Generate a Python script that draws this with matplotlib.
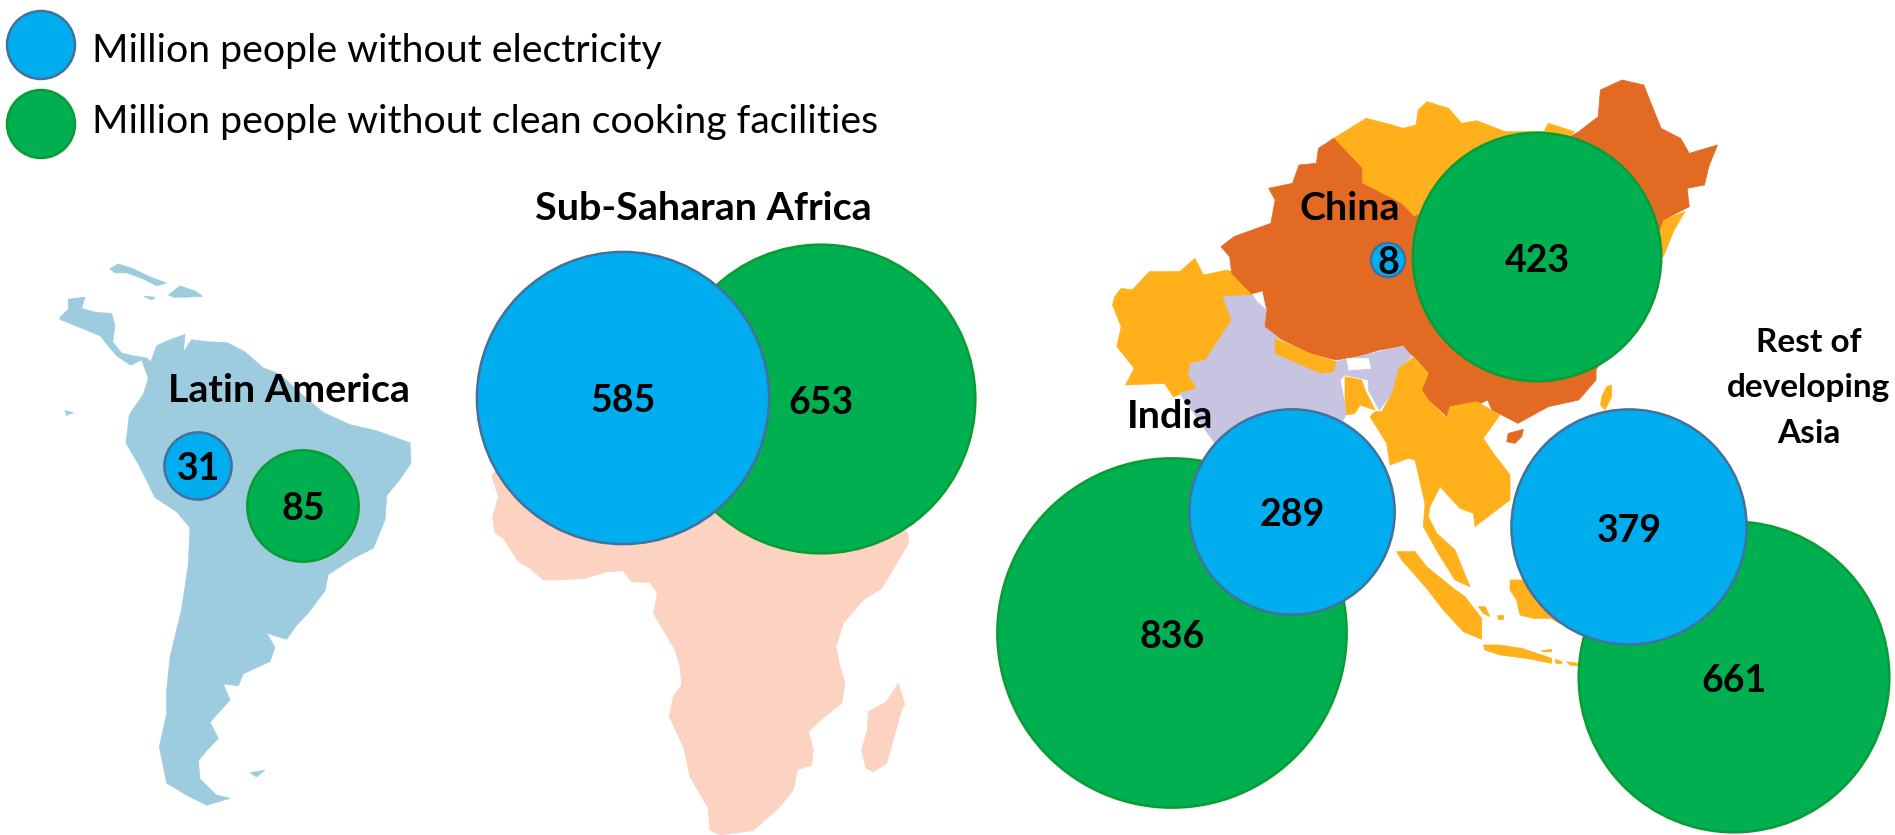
import numpy as np
import matplotlib
matplotlib.use('Agg')
import matplotlib.pyplot as plt
from matplotlib.patches import Circle, Polygon

plt.rcParams['font.family'] = ['Lato', 'DejaVu Sans']

# million people, read from the bubbles
regions = ['Latin America', 'Sub-Saharan Africa', 'China', 'India', 'Rest of\ndeveloping\nAsia']
no_electricity = [31, 585, 8, 289, 379]
no_cooking = [85, 653, 423, 836, 661]
legend_labels = ['Million people without electricity', 'Million people without clean cooking facilities']

# bubble centres in picture pixels
elec_x = [198, 623, 1388, 1292, 1629]
elec_y = [466, 398, 260, 512, 527]
cook_x = [303, 821, 1537, 1172, 1734]
cook_y = [506, 399, 257, 633, 677]
label_x = [289, 703, 1350, 1170, 1809]
label_y = [391, 208, 209, 416, 388]
label_size = [28.4, 28.4, 28.4, 28.4, 24]
label_spacing = [1.2, 1.2, 1.2, 1.2, 1.7]

BLUE = '#00AEEF'
BLUE_EDGE = '#41719C'
GREEN = '#00B050'
GREEN_EDGE = '#0A9C32'
LATIN = '#9ECCDF'
AFRICA = '#FCD2C1'
CHINA = '#E26A22'
OTHER_ASIA = '#FFB01A'
INDIA = '#C6C4E0'

CROP_LATIN = (0, 200, 3, 2.47)
CROP_AFRICA = (460, 440, 3, 3)
CROP_NORTH_ASIA = (1080, 60, 2.306, 3)
CROP_SE_ASIA = (1340, 380, 3, 3)

latin_main = [(180, 290), (205, 270), (205, 245), (255, 240), (245, 268), (290, 278), (335, 280), (345, 310),
              (338, 350), (365, 378), (400, 385), (440, 390), (452, 400), (470, 360), (510, 345), (555, 332),
              (550, 375), (575, 345), (620, 350), (680, 352), (735, 375), (790, 415), (840, 430), (905, 480),
              (970, 525), (1050, 555), (1130, 570), (1230, 600), (1233, 650), (1200, 690), (1160, 730),
              (1155, 790), (1120, 860), (1060, 885), (985, 925), (975, 965), (925, 1020), (890, 1050),
              (860, 1085), (800, 1070), (825, 1105), (810, 1140), (730, 1170), (715, 1200), (670, 1195),
              (690, 1235), (630, 1290), (655, 1330), (620, 1360), (595, 1385), (600, 1430), (650, 1470),
              (690, 1478), (620, 1495), (560, 1470), (500, 1440), (478, 1350), (500, 1270), (500, 1210),
              (510, 1130), (545, 1010), (565, 900), (570, 810), (530, 770), (465, 735), (420, 660),
              (378, 600), (388, 530), (430, 480), (445, 440), (425, 395), (392, 408), (350, 385),
              (300, 335), (240, 315), (180, 295)]
cuba = [(330, 170), (355, 158), (400, 170), (450, 190), (500, 205), (470, 212), (430, 195), (380, 180), (345, 180)]
hispaniola = [(505, 235), (540, 212), (585, 225), (608, 238), (560, 240), (520, 240)]
jamaica = [(432, 238), (465, 240), (455, 247)]
galapagos = [(195, 520), (220, 525), (200, 532)]
falklands = [(750, 1415), (795, 1408), (770, 1425)]

africa_main = [(95, 105), (115, 170), (98, 230), (105, 280), (130, 295), (175, 365), (210, 385), (250, 420),
               (300, 420), (375, 415), (440, 395), (490, 392), (515, 425), (570, 428), (592, 460), (580, 520),
               (610, 570), (645, 630), (660, 680), (665, 735), (640, 770), (628, 830), (670, 920), (690, 1010),
               (745, 1105), (750, 1170), (780, 1185), (880, 1172), (960, 1100), (1000, 1050), (1012, 990),
               (1055, 975), (1060, 930), (1045, 875), (1100, 825), (1145, 790), (1155, 730), (1140, 680),
               (1128, 620), (1150, 550), (1210, 480), (1265, 445), (1310, 370), (1345, 310), (1345, 285),
               (1200, 100), (800, 60), (200, 20)]
madagascar = [(1315, 730), (1335, 795), (1325, 810), (1280, 970), (1240, 995), (1218, 985), (1205, 930),
              (1222, 870), (1225, 815), (1280, 785)]

mongolia = [(575, 250), (585, 235), (660, 175), (720, 195), (745, 205), (775, 195), (780, 150), (800, 125),
            (850, 145), (880, 190), (915, 182), (980, 215), (1070, 215), (1080, 190), (1140, 215), (1000, 400),
            (765, 490), (730, 445), (635, 385), (635, 335), (595, 285)]
korea = [(1320, 500), (1345, 480), (1395, 455), (1370, 510), (1345, 590), (1320, 560)]
china = [(1150, 215), (1195, 170), (1200, 90), (1250, 60), (1300, 75), (1340, 205), (1385, 235), (1405, 280),
         (1470, 255), (1450, 320), (1440, 375), (1400, 385), (1405, 440), (1345, 480), (1250, 800), (1190, 930),
         (1190, 960), (1150, 1020), (1080, 1040), (1010, 1090), (950, 1050), (940, 1020), (850, 1075),
         (830, 1050), (775, 990), (790, 920), (770, 890), (740, 860), (690, 870), (640, 890), (590, 900),
         (530, 880), (460, 835), (420, 800), (425, 740), (395, 700), (350, 640), (345, 590), (325, 560),
         (355, 530), (440, 490), (450, 420), (435, 385), (490, 370), (505, 315), (545, 310), (550, 265),
         (585, 235), (610, 270), (650, 325), (650, 370), (740, 430), (770, 470), (900, 400)]
pakistan = [(80, 710), (95, 685), (120, 690), (160, 635), (230, 635), (265, 595), (285, 645), (340, 630),
            (380, 650), (400, 720), (370, 780), (340, 840), (310, 900), (275, 915), (270, 945),
            (270, 985), (215, 1010), (195, 970), (105, 975), (125, 925), (85, 860), (95, 800), (75, 735)]
india = [(330, 710), (400, 705), (430, 745), (425, 800), (455, 830), (450, 880), (560, 940), (590, 905),
         (640, 890), (745, 858), (765, 890), (735, 925), (720, 1000), (690, 1050), (665, 990), (665, 960),
         (610, 945), (600, 960), (615, 1060), (520, 1300), (400, 1300), (300, 1130), (230, 1000), (270, 985),
         (250, 945), (255, 910), (290, 900), (320, 840), (350, 780)]
nepal = [(450, 835), (530, 880), (590, 905), (585, 935), (555, 940), (450, 880)]
bhutan = [(615, 895), (665, 895), (670, 925), (620, 930)]
kashmir_gap = [(398, 703), (420, 695), (428, 745), (410, 725)]

se_mainland = [(222, -69), (265, -20), (245, 30), (265, 60), (320, 115), (330, 80), (410, 65), (480, 105),
               (430, 175), (460, 220), (510, 285), (510, 360), (470, 390), (405, 440), (400, 400), (360, 385),
               (300, 320), (270, 380), (265, 410), (290, 460), (345, 510), (390, 620), (345, 600), (295, 520),
               (250, 440), (255, 370), (225, 240), (205, 235), (150, 255), (140, 190), (90, 110), (105, 95),
               (125, 95), (157, 39), (177, -36)]
bangladesh = [(15, -10), (65, 0), (75, 30), (105, 90), (60, 75), (45, 100), (20, 105), (15, 60)]
sumatra = [(170, 515), (225, 515), (260, 560), (340, 625), (375, 650), (425, 715), (425, 778), (370, 755),
           (310, 690), (260, 625), (185, 540)]
java = [(430, 795), (480, 795), (545, 805), (590, 820), (635, 835), (635, 850), (560, 835), (480, 825), (435, 810)]
bali = [(645, 838), (665, 845), (665, 852), (648, 850)]
timor = [(680, 845), (715, 850), (715, 858), (690, 855)]
madura = [(605, 812), (635, 808), (635, 815), (610, 816)]
bangka = [(415, 680), (435, 680), (450, 710), (430, 700)]
belitung = [(472, 705), (488, 705), (488, 718), (475, 718)]
borneo = [(510, 600), (570, 600), (700, 700), (660, 730), (630, 715), (580, 715), (540, 705), (530, 660), (510, 630)]
taiwan = [(800, 20), (815, 15), (815, 50), (795, 90), (782, 75), (785, 50)]
hainan = [(505, 160), (550, 148), (545, 170), (525, 190), (500, 185)]


def add_shape(ax, points, crop, color):
    x0, y0, sx, sy = crop
    pts = np.array(points, dtype=float)
    pts = np.column_stack([x0 + pts[:, 0] / sx, y0 + pts[:, 1] / sy])
    ax.add_patch(Polygon(pts, closed=True, facecolor=color, edgecolor=color, lw=0.5, zorder=1))


def add_bubble(ax, x, y, value, color, edge, zorder):
    # bubble area follows the value
    radius = 6.04 * np.sqrt(value)
    ax.add_patch(Circle((x, y), radius, facecolor=color, edgecolor=edge, lw=1.8, zorder=zorder))


fig = plt.figure(figsize=(18.95, 8.35), dpi=100)
ax = fig.add_axes([0, 0, 1, 1])
ax.set_xlim(0, 1895)
ax.set_ylim(835, 0)
ax.axis('off')

for shape in [latin_main, cuba, hispaniola, jamaica, galapagos, falklands]:
    add_shape(ax, shape, CROP_LATIN, LATIN)
for shape in [africa_main, madagascar]:
    add_shape(ax, shape, CROP_AFRICA, AFRICA)
for shape in [mongolia, korea, pakistan]:
    add_shape(ax, shape, CROP_NORTH_ASIA, OTHER_ASIA)
add_shape(ax, china, CROP_NORTH_ASIA, CHINA)
add_shape(ax, india, CROP_NORTH_ASIA, INDIA)
add_shape(ax, nepal, CROP_NORTH_ASIA, OTHER_ASIA)
for shape in [bhutan, kashmir_gap]:
    add_shape(ax, shape, CROP_NORTH_ASIA, 'white')
for shape in [se_mainland, bangladesh, sumatra, java, bali, timor, madura, bangka, belitung, borneo, taiwan]:
    add_shape(ax, shape, CROP_SE_ASIA, OTHER_ASIA)
add_shape(ax, hainan, CROP_SE_ASIA, CHINA)

for i in range(len(regions)):
    # the electricity bubble sits on top of the cooking one
    add_bubble(ax, cook_x[i], cook_y[i], no_cooking[i], GREEN, GREEN_EDGE, 3)
    add_bubble(ax, elec_x[i], elec_y[i], no_electricity[i], BLUE, BLUE_EDGE, 4)
    ax.text(cook_x[i], cook_y[i] + 3.5, str(no_cooking[i]), ha='center', va='center', fontsize=27,
            fontweight='bold', color='black', zorder=6)
    ax.text(elec_x[i], elec_y[i] + 3.5, str(no_electricity[i]), ha='center', va='center', fontsize=27,
            fontweight='bold', color='black', zorder=6)
    ax.text(label_x[i], label_y[i], regions[i], ha='center', va='center', fontsize=label_size[i],
            fontweight='bold', color='black', linespacing=label_spacing[i], zorder=6)

# legend keys
ax.add_patch(Circle((41, 45), 34, facecolor=BLUE, edgecolor=BLUE_EDGE, lw=1.8, zorder=4))
ax.add_patch(Circle((41, 124), 34, facecolor=GREEN, edgecolor=GREEN_EDGE, lw=1.8, zorder=4))
ax.text(92, 51, legend_labels[0], ha='left', va='center', fontsize=28.3, color='black')
ax.text(92, 122, legend_labels[1], ha='left', va='center', fontsize=28.3, color='black')

fig.savefig('out.png', dpi=100)
